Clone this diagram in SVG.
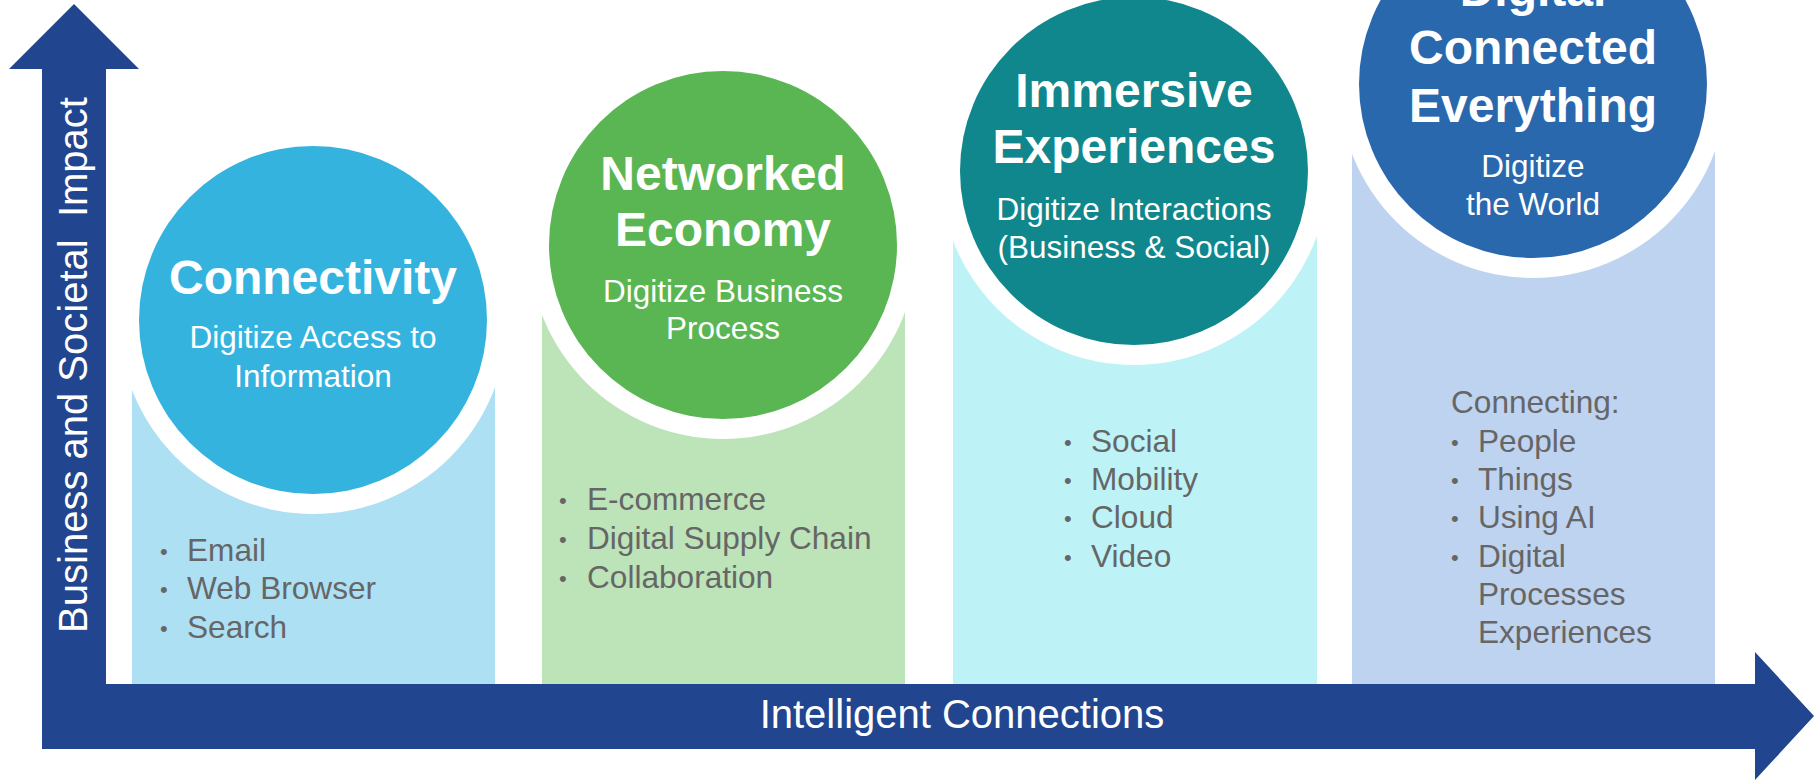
<svg xmlns="http://www.w3.org/2000/svg" width="1814" height="780" viewBox="0 0 1814 780">
  <style>
    text { font-family: "Liberation Sans", Arial, sans-serif; }
    .title { font-size: 48px; font-weight: bold; fill: #ffffff; text-anchor: middle; }
    .sub { font-size: 31.5px; fill: #ffffff; text-anchor: middle; }
    .item { font-size: 31.6px; fill: #666666; }
    .dot { font-size: 22px; fill: #666666; }
    .axis-label { font-size: 40px; fill: #ffffff; text-anchor: middle; white-space: pre; }
    .halo { fill: #ffffff; }
  </style>

  <!-- stage 1: connectivity -->
  <g id="stage-connectivity">
    <rect x="132" y="384" width="363" height="301" fill="#AEE0F3"/>
    <circle class="halo" cx="313" cy="320" r="194"/>
    <circle cx="313" cy="320" r="174" fill="#35B3DF"/>
    <text class="title" x="313" y="294">Connectivity</text>
    <text class="sub" x="313" y="348">Digitize Access to</text>
    <text class="sub" x="313" y="387">Information</text>
    <text class="dot" x="160" y="559">•</text><text class="item" x="187" y="561">Email</text>
    <text class="dot" x="160" y="597">•</text><text class="item" x="187" y="599">Web Browser</text>
    <text class="dot" x="160" y="636">•</text><text class="item" x="187" y="638">Search</text>
  </g>

  <!-- stage 2: networked economy -->
  <g id="stage-networked-economy">
    <rect x="542" y="310" width="363" height="375" fill="#BDE3B8"/>
    <circle class="halo" cx="723" cy="245" r="194"/>
    <circle cx="723" cy="245" r="174" fill="#5AB652"/>
    <text class="title" x="723" y="190">Networked</text>
    <text class="title" x="723" y="246">Economy</text>
    <text class="sub" x="723" y="302">Digitize Business</text>
    <text class="sub" x="723" y="339">Process</text>
    <text class="dot" x="559" y="508">•</text><text class="item" x="587" y="510">E-commerce</text>
    <text class="dot" x="559" y="547">•</text><text class="item" x="587" y="549">Digital Supply Chain</text>
    <text class="dot" x="559" y="586">•</text><text class="item" x="587" y="588">Collaboration</text>
  </g>

  <!-- stage 3: immersive experiences -->
  <g id="stage-immersive-experiences">
    <rect x="953" y="237" width="364" height="448" fill="#BDF3F6"/>
    <circle class="halo" cx="1134" cy="171" r="194"/>
    <circle cx="1134" cy="171" r="174" fill="#10878C"/>
    <text class="title" x="1134" y="107">Immersive</text>
    <text class="title" x="1134" y="163">Experiences</text>
    <text class="sub" x="1134" y="220">Digitize Interactions</text>
    <text class="sub" x="1134" y="258">(Business &amp; Social)</text>
    <text class="dot" x="1064" y="450">•</text><text class="item" x="1091" y="452">Social</text>
    <text class="dot" x="1064" y="488">•</text><text class="item" x="1091" y="490">Mobility</text>
    <text class="dot" x="1064" y="526">•</text><text class="item" x="1091" y="528">Cloud</text>
    <text class="dot" x="1064" y="565">•</text><text class="item" x="1091" y="567">Video</text>
  </g>

  <!-- stage 4: digital connected everything -->
  <g id="stage-digital-connected-everything">
    <rect x="1352" y="150" width="363" height="535" fill="#BED3EF"/>
    <circle class="halo" cx="1533" cy="84" r="194"/>
    <circle cx="1533" cy="84" r="174" fill="#2A68AE"/>
    <text class="title" x="1533" y="6">Digital</text>
    <text class="title" x="1533" y="64">Connected</text>
    <text class="title" x="1533" y="122">Everything</text>
    <text class="sub" x="1533" y="177">Digitize</text>
    <text class="sub" x="1533" y="215">the World</text>
    <text class="item" x="1451" y="413">Connecting:</text>
    <text class="dot" x="1451" y="450">•</text><text class="item" x="1478" y="452">People</text>
    <text class="dot" x="1451" y="488">•</text><text class="item" x="1478" y="490">Things</text>
    <text class="dot" x="1451" y="526">•</text><text class="item" x="1478" y="528">Using AI</text>
    <text class="dot" x="1451" y="565">•</text><text class="item" x="1478" y="567">Digital</text>
    <text class="item" x="1478" y="605">Processes</text>
    <text class="item" x="1478" y="643">Experiences</text>
  </g>

  <!-- axes -->
  <g id="axes" fill="#21468F">
    <path id="axis-impact" d="M74,4 L139,69 L106,69 L106,749 L42,749 L42,69 L9,69 Z"/>
    <path id="axis-connections" d="M42,684 L1755,684 L1755,652 L1814,716 L1755,780 L1755,749 L42,749 Z"/>
    <text class="axis-label" transform="translate(87,365) rotate(-90)">Business and Societal  Impact</text>
    <text class="axis-label" x="962" y="728">Intelligent Connections</text>
  </g>
</svg>
